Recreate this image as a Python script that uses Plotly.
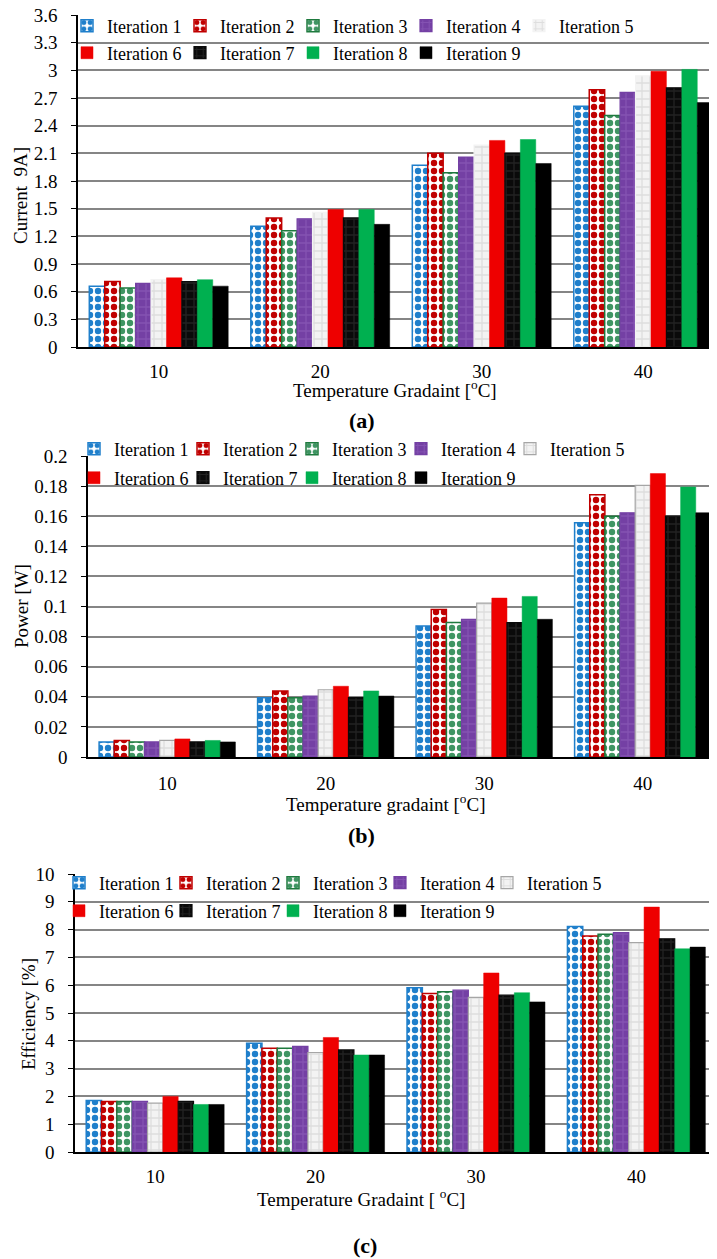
import plotly.graph_objects as go

# ---------------- data ----------------
categories = ["10", "20", "30", "40"]
series_names = ["Iteration 1", "Iteration 2", "Iteration 3", "Iteration 4", "Iteration 5",
                "Iteration 6", "Iteration 7", "Iteration 8", "Iteration 9"]

current_values = [
    [0.66, 1.31, 1.97, 2.61],
    [0.71, 1.40, 2.10, 2.79],
    [0.64, 1.26, 1.89, 2.51],
    [0.69, 1.39, 2.06, 2.76],
    [0.73, 1.46, 2.19, 2.94],
    [0.75, 1.49, 2.24, 2.99],
    [0.71, 1.40, 2.10, 2.81],
    [0.73, 1.49, 2.25, 3.01],
    [0.66, 1.33, 1.99, 2.65],
]
power_values = [
    [0.010, 0.0394, 0.0870, 0.1557],
    [0.011, 0.0439, 0.0980, 0.1743],
    [0.010, 0.0394, 0.0893, 0.1600],
    [0.010, 0.0405, 0.0915, 0.1623],
    [0.011, 0.0447, 0.1023, 0.1805],
    [0.012, 0.0470, 0.1056, 0.1883],
    [0.010, 0.0394, 0.0893, 0.1600],
    [0.011, 0.0439, 0.1067, 0.1794],
    [0.010, 0.0405, 0.0915, 0.1623],
]
efficiency_values = [
    [1.85, 3.91, 5.91, 8.11],
    [1.82, 3.73, 5.70, 7.77],
    [1.82, 3.73, 5.76, 7.83],
    [1.82, 3.80, 5.82, 7.89],
    [1.76, 3.58, 5.56, 7.53],
    [2.00, 4.12, 6.44, 8.81],
    [1.82, 3.67, 5.64, 7.67],
    [1.71, 3.49, 5.73, 7.31],
    [1.71, 3.49, 5.40, 7.37],
]

current_ticks = [0, 0.3, 0.6, 0.9, 1.2, 1.5, 1.8, 2.1, 2.4, 2.7, 3.0, 3.3, 3.6]
current_ticktext = ["0", "0.3", "0.6", "0.9", "1.2", "1.5", "1.8", "2.1", "2.4", "2.7", "3", "3.3", "3.6"]
power_ticks = [0, 0.02, 0.04, 0.06, 0.08, 0.1, 0.12, 0.14, 0.16, 0.18, 0.2]
power_ticktext = ["0", "0.02", "0.04", "0.06", "0.08", "0.1", "0.12", "0.14", "0.16", "0.18", "0.2"]
eff_ticks = [0, 1, 2, 3, 4, 5, 6, 7, 8, 9, 10]
eff_ticktext = ["0", "1", "2", "3", "4", "5", "6", "7", "8", "9", "10"]

# ---------------- layout helpers ----------------
# the page places the figure 8px from the top-left corner of the window
OFF = 8
W, H = 717 - OFF, 1259 - OFF
FONT = "Liberation Serif"

def px(x):
    return (x - OFF) / W

def py(y):
    return 1 - (y - OFF) / H

styles = [
    dict(fg="#1F7FCB", bg="white", shape=".", line="#1F7FCB"),
    dict(fg="#C00000", bg="white", shape=".", line="#C00000"),
    dict(fg="#3F9563", bg="white", shape=".", line="#1E7A3E"),
    dict(fg="#8452B2", bg="#7440A4", shape="+", line="#7440A4"),
    dict(fg="#DEDEDE", bg="#F3F3F3", shape="+", line="#A6A6A6"),
    dict(fg=None, bg="#EE0000", shape="", line="#EE0000"),
    dict(fg="#222222", bg="#0A0A0A", shape="+", line="#0A0A0A"),
    dict(fg=None, bg="#00B050", shape="", line="#00B050"),
    dict(fg=None, bg="#000000", shape="", line="#000000"),
]

panels = [
    dict(values=current_values, xa="x", ya="y", legends=("legend", "legend2"), entry=68),
    dict(values=power_values, xa="x2", ya="y2", legends=("legend3", "legend4"), entry=64),
    dict(values=efficiency_values, xa="x3", ya="y3", legends=("legend5", "legend6"), entry=62),
]

fig = go.Figure()
for p_i, p in enumerate(panels):
    for i, name in enumerate(series_names):
        st = styles[i]
        lcol = st["line"]
        if i == 4 and p_i == 0:
            lcol = st["bg"]
        if st["shape"] == ".":
            marker = dict(color=st["bg"],
                          pattern=dict(shape=".", fgcolor=st["fg"], bgcolor=st["bg"],
                                       size=8, solidity=0.5, fillmode="replace"),
                          line=dict(color=lcol, width=1.5))
        elif st["shape"]:
            marker = dict(color=st["bg"],
                          pattern=dict(shape=st["shape"], fgcolor=st["fg"], bgcolor=st["bg"],
                                       size=8, solidity=0.3, fillmode="replace"),
                          line=dict(color=lcol, width=1.2))
        else:
            marker = dict(color=st["bg"], line=dict(color=lcol, width=0.5))
        leg = p["legends"][0] if i < 5 else p["legends"][1]
        kw = {}
        if i in (4, 8):
            kw["legendwidth"] = p["entry"] + 60
        fig.add_trace(go.Bar(
            x=categories, y=p["values"][i], name=name,
            xaxis=p["xa"], yaxis=p["ya"], marker=marker,
            legend=leg, showlegend=True, **kw
        ))

axis_common = dict(showgrid=False, showline=True, linecolor="black", ticks="", automargin=False,
                   tickfont=dict(family=FONT, size=19, color="black"), fixedrange=True)
yaxis_common = dict(showgrid=True, gridcolor="#858585", gridwidth=2, zeroline=False,
                    showline=True, linecolor="black", linewidth=1.5, automargin=False,
                    ticks="outside", ticklen=5, tickcolor="black", ticklabelstandoff=10,
                    ticklabeloverflow="allow",
                    tickfont=dict(family=FONT, size=19, color="black"))

fig.update_layout(
    width=W, height=H,
    margin=dict(l=0, r=0, t=0, b=0, autoexpand=False),
    paper_bgcolor="white", plot_bgcolor="white",
    barmode="group", bargap=0.14, bargroupgap=0,
    font=dict(family=FONT, color="black"),
    xaxis=dict(axis_common, domain=[px(78), 1], range=[-0.5, -0.5 + (717 - 78) / 161.5],
               anchor="y", linewidth=2, ticklabelstandoff=6),
    yaxis=dict(yaxis_common, domain=[py(347), py(15)], range=[0, 3.6], anchor="x",
               tickvals=current_ticks, ticktext=current_ticktext),
    xaxis2=dict(axis_common, domain=[px(88), 1], range=[-0.5, -0.5 + (717 - 88) / 158.5],
                anchor="y2", linewidth=2, ticklabelstandoff=8),
    yaxis2=dict(yaxis_common, domain=[py(757), py(456)], range=[0, 0.2], anchor="x2",
                tickvals=power_ticks, ticktext=power_ticktext),
    xaxis3=dict(axis_common, domain=[px(75), 1], range=[-0.5, -0.5 + (717 - 75) / 160.4],
                anchor="y3", linewidth=2, ticklabelstandoff=6),
    yaxis3=dict(yaxis_common, domain=[py(1152), py(874)], range=[0, 10], anchor="x3",
                tickvals=eff_ticks, ticktext=eff_ticktext),
)

def legend_cfg(x_text, y_row, entry):
    return dict(orientation="h", x=px(x_text - 40), y=py(y_row), xanchor="left", yanchor="middle",
                entrywidth=entry, entrywidthmode="pixels",
                bgcolor="rgba(0,0,0,0)", borderwidth=0,
                font=dict(family=FONT, size=18, color="black"))

fig.update_layout(
    legend=legend_cfg(107, 26, 68),
    legend2=legend_cfg(107, 53, 68),
    legend3=legend_cfg(114, 449, 64),
    legend4=legend_cfg(114, 478, 64),
    legend5=legend_cfg(99, 883, 62),
    legend6=legend_cfg(99, 911, 62),
)

# white legend areas hiding gridlines (drawn between gridlines and bars)
for (x0, x1, y0, y1) in [(79, 645, 8, 66), (89, 632, 440, 493), (76, 610, 862, 922)]:
    fig.add_shape(type="rect", xref="paper", yref="paper", layer="between",
                  x0=px(x0), x1=px(x1), y0=py(y1), y1=py(y0),
                  fillcolor="white", line=dict(width=0))

annotations = [
    ("Temperature Gradaint [<sup>o</sup>C]", 395, 389, 19, False, 0),
    ("(a)", 362, 420, 22, True, 0),
    ("Temperature gradaint [<sup>o</sup>C]", 386, 803, 19, False, 0),
    ("(b)", 361, 835, 22, True, 0),
    ("Temperature Gradaint [ <sup>o</sup>C]", 361, 1198, 19, False, 0),
    ("(c)", 365, 1245, 22, True, 0),
    ("Current  9A]", 20, 196, 19, False, -90),
    ("Power [W]", 21, 606, 19, False, -90),
    ("Efficiency [%]", 28, 1014, 19, False, -90),
]
for text, x, y, size, bold, angle in annotations:
    fig.add_annotation(text=f"<b>{text}</b>" if bold else text,
                       x=px(x), y=py(y), xref="paper", yref="paper",
                       xanchor="center", yanchor="middle", showarrow=False,
                       textangle=angle, font=dict(family=FONT, size=size, color="black"))

fig.write_html("out.html")
